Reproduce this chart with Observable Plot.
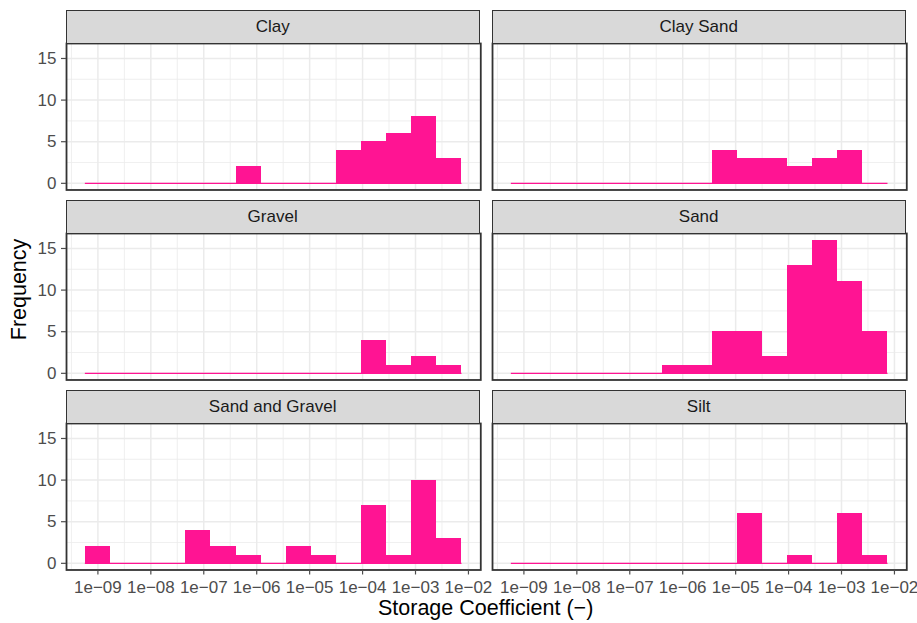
<!DOCTYPE html>
<html>
<head>
<meta charset="utf-8">
<script src="https://cdn.jsdelivr.net/npm/d3@7"></script>
<script src="https://cdn.jsdelivr.net/npm/@observablehq/plot@0.6"></script>
<style>
  html, body { margin: 0; padding: 0; background: #ffffff; }
  #chart { position: relative; width: 917px; height: 623px; overflow: hidden;
           font-family: "Liberation Sans", Arial, sans-serif; }
  .strip { position: absolute; box-sizing: border-box; background: #D9D9D9;
           border: 1.6px solid #333333; color: #1A1A1A; font-size: 17px;
           display: flex; align-items: center; justify-content: center; }
  .panel { position: absolute; overflow: visible; max-width: none; }
</style>
</head>
<body>
<div id="chart"></div>
<script>
// ---------- data ----------
const facets = ["Clay", "Clay Sand", "Gravel", "Sand", "Sand and Gravel", "Silt"];
// histogram bin edges, as log10 of the storage coefficient
const binEdges = [-9.237, -8.763, -8.288, -7.814, -7.340, -6.865, -6.391, -5.917,
                  -5.442, -4.968, -4.494, -4.019, -3.545, -3.071, -2.597, -2.122];
const clayCounts       = [0, 0, 0, 0, 0, 0, 2, 0, 0, 0, 4, 5, 6, 8, 3];
const claySandCounts   = [0, 0, 0, 0, 0, 0, 0, 0, 4, 3, 3, 2, 3, 4, 0];
const gravelCounts     = [0, 0, 0, 0, 0, 0, 0, 0, 0, 0, 0, 4, 1, 2, 1];
const sandCounts       = [0, 0, 0, 0, 0, 0, 1, 1, 5, 5, 2, 13, 16, 11, 5];
const sandGravelCounts = [2, 0, 0, 0, 4, 2, 1, 0, 2, 1, 0, 7, 1, 10, 3];
const siltCounts       = [0, 0, 0, 0, 0, 0, 0, 0, 0, 6, 0, 1, 0, 6, 1];
const xTicks = [1e-9, 1e-8, 1e-7, 1e-6, 1e-5, 1e-4, 1e-3, 1e-2];
const xTickLabels = ["1e\u221209", "1e\u221208", "1e\u221207", "1e\u221206",
                     "1e\u221205", "1e\u221204", "1e\u221203", "1e\u221202"];
const xMinorExp = [-9.5, -8.5, -7.5, -6.5, -5.5, -4.5, -3.5, -2.5];
const yTicks = [0, 5, 10, 15];
const yMinor = [2.5, 7.5, 12.5];
const xTitle = "Storage Coefficient (\u2212)";
const yTitle = "Frequency";

// ---------- layout ----------
const countsByFacet = [clayCounts, claySandCounts, gravelCounts, sandCounts, sandGravelCounts, siltCounts];
const xDomainExp = [-9.593, -1.767];
const yDomain = [-0.8, 16.8];
const colX = [65.5, 491.5];
const panelW = 414.3;
const stripTop = [9.5, 199.7, 389.9];
const stripH = 33;
const plotH = 146.5;
const pink = "#FF1493";
const gridCol = "#EBEBEB";

const chart = document.getElementById("chart");

// axis titles
const ns = "http://www.w3.org/2000/svg";
const overlay = document.createElementNS(ns, "svg");
overlay.setAttribute("width", 917);
overlay.setAttribute("height", 623);
overlay.style.position = "absolute";
overlay.style.left = "0px";
overlay.style.top = "0px";
const tx = document.createElementNS(ns, "text");
tx.setAttribute("x", (colX[0] + colX[1] + panelW) / 2);
tx.setAttribute("y", 615);
tx.setAttribute("text-anchor", "middle");
tx.setAttribute("font-size", "21.5px");
tx.setAttribute("font-family", "Liberation Sans, Arial, sans-serif");
tx.setAttribute("fill", "#000");
tx.textContent = xTitle;
overlay.appendChild(tx);
const ty = document.createElementNS(ns, "text");
const cy = (stripTop[0] + stripTop[2] + stripH + plotH) / 2;
ty.setAttribute("transform", `translate(25.5,${cy}) rotate(-90)`);
ty.setAttribute("text-anchor", "middle");
ty.setAttribute("font-size", "21.5px");
ty.setAttribute("font-family", "Liberation Sans, Arial, sans-serif");
ty.setAttribute("fill", "#000");
ty.textContent = yTitle;
overlay.appendChild(ty);
chart.appendChild(overlay);

facets.forEach((name, i) => {
  const col = i % 2, row = Math.floor(i / 2);
  const counts = countsByFacet[i];
  const bins = counts.map((c, k) => ({x1: 10 ** binEdges[k], x2: 10 ** binEdges[k + 1], count: c}));
  const baseLine = [{y: 0, x1: 10 ** binEdges[0], x2: 10 ** binEdges[binEdges.length - 1]}];
  const isLeft = col === 0, isBottom = row === 2;
  const ml = isLeft ? 66 : 2, mr = 2, mt = 2, mb = isBottom ? 32 : 2;

  // strip
  const strip = document.createElement("div");
  strip.className = "strip";
  strip.style.left = colX[col] + "px";
  strip.style.top = stripTop[row] + "px";
  strip.style.width = panelW + "px";
  strip.style.height = (stripH + 1) + "px";
  strip.textContent = name;

  const marks = [
    Plot.ruleX(xMinorExp.map(e => 10 ** e), {stroke: gridCol, strokeWidth: 0.8}),
    Plot.ruleY(yMinor, {stroke: gridCol, strokeWidth: 0.8}),
    Plot.ruleX(xTicks, {stroke: gridCol, strokeWidth: 1.5}),
    Plot.ruleY(yTicks, {stroke: gridCol, strokeWidth: 1.5}),
    Plot.ruleY(baseLine, {y: "y", x1: "x1", x2: "x2", stroke: pink, strokeWidth: 1.3}),
    Plot.rectY(bins, {x1: "x1", x2: "x2", y: "count", fill: pink, inset: 0,
                      shapeRendering: "crispEdges"}),
    Plot.frame({stroke: "#333333", strokeWidth: 1.8})
  ];
  if (isLeft) marks.push(Plot.axisY({ticks: yTicks, tickSize: 5, tickPadding: 5, fontSize: 17,
                                      color: "#4D4D4D", strokeWidth: 1.2, label: null}));
  if (isBottom) marks.push(Plot.axisX({ticks: xTicks, tickSize: 5, tickPadding: 6, fontSize: 17,
                                       color: "#4D4D4D", strokeWidth: 1.2, label: null,
                                       tickFormat: d => xTickLabels[xTicks.indexOf(d)]}));

  const svg = Plot.plot({
    width: ml + panelW + mr,
    height: mt + plotH + mb,
    marginLeft: ml, marginRight: mr, marginTop: mt, marginBottom: mb,
    style: {fontFamily: "Liberation Sans, Arial, sans-serif", fontSize: "17px", background: "transparent", overflow: "visible"},
    x: {type: "log", domain: [10 ** xDomainExp[0], 10 ** xDomainExp[1]], ...(isBottom ? {} : {axis: null})},
    y: {domain: yDomain, ...(isLeft ? {} : {axis: null})},
    marks
  });
  svg.classList.add("panel");
  svg.style.left = (colX[col] - ml) + "px";
  svg.style.top = (stripTop[row] + stripH - mt) + "px";
  svg.style.maxWidth = "none";
  chart.appendChild(svg);
  chart.appendChild(strip);
});
</script>
</body>
</html>
